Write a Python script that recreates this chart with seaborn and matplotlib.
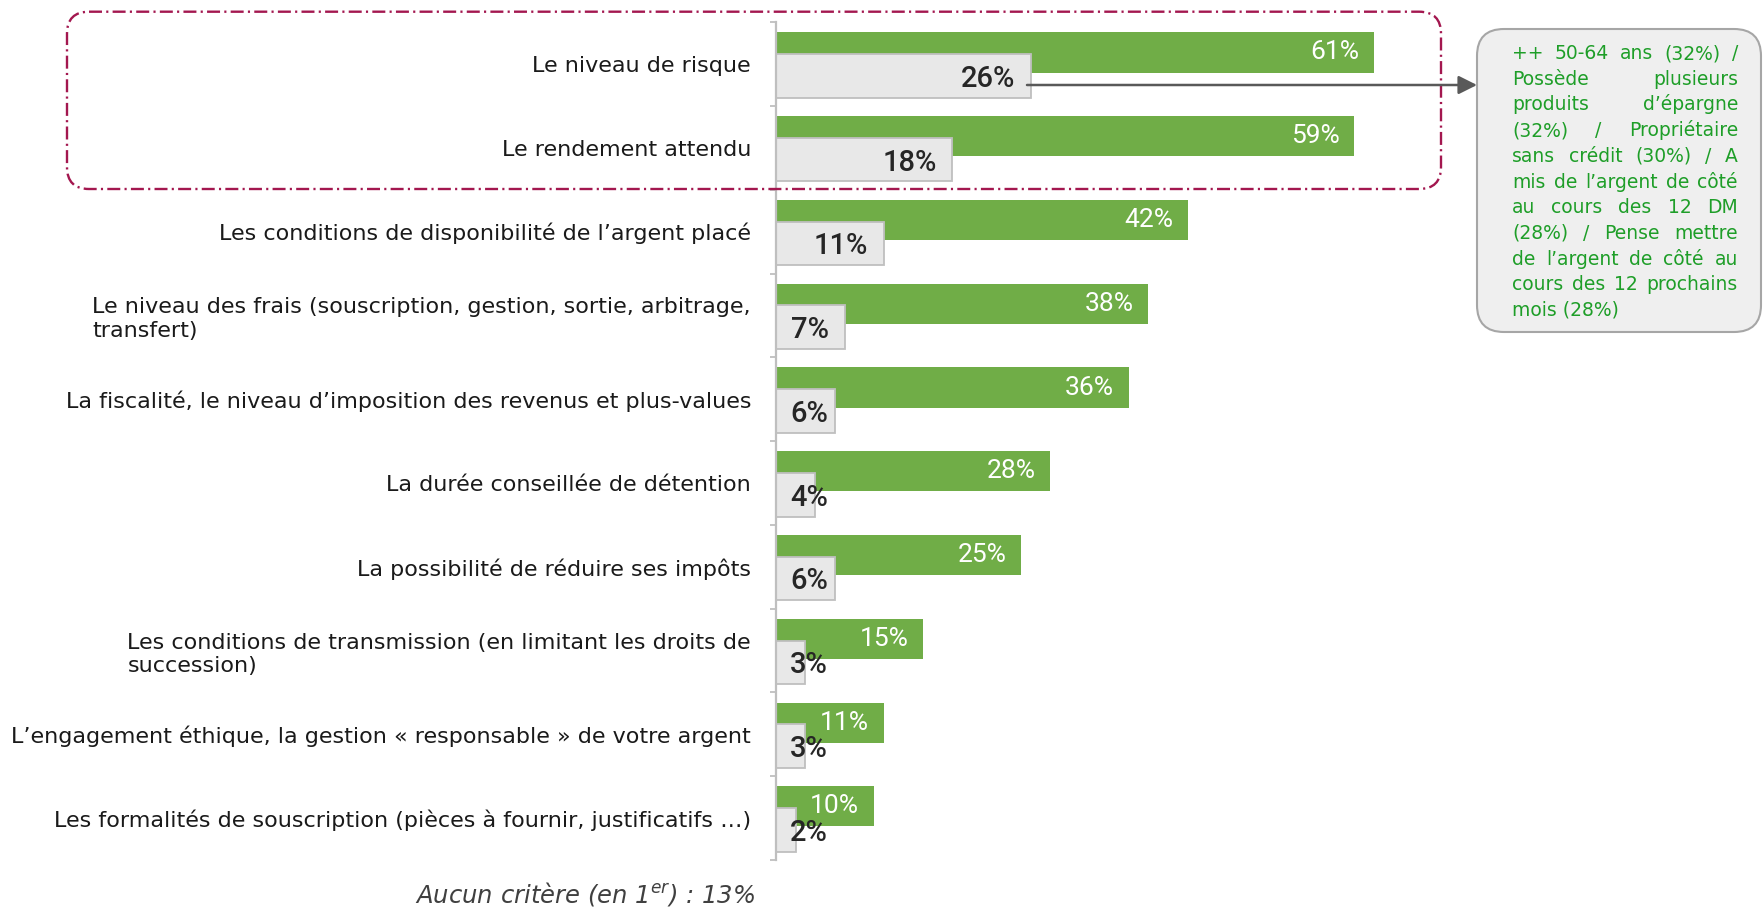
import numpy as np
import pandas as pd
import seaborn as sns
import matplotlib.pyplot as plt
from matplotlib.patches import FancyBboxPatch

# ---------------- data ----------------
categories = [
    "Le niveau de risque",
    "Le rendement attendu",
    "Les conditions de disponibilité de l’argent placé",
    "Le niveau des frais (souscription, gestion, sortie, arbitrage,\ntransfert)",
    "La fiscalité, le niveau d’imposition des revenus et plus-values",
    "La durée conseillée de détention",
    "La possibilité de réduire ses impôts",
    "Les conditions de transmission (en limitant les droits de\nsuccession)",
    "L’engagement éthique, la gestion « responsable » de votre argent",
    "Les formalités de souscription (pièces à fournir, justificatifs …)",
]
total_values = [61, 59, 42, 38, 36, 28, 25, 15, 11, 10]
first_values = [26, 18, 11, 7, 6, 4, 6, 3, 3, 2]

callout_lines = [
    "++ 50-64 ans (32%) /",
    "Possède plusieurs",
    "produits d’épargne",
    "(32%) / Propriétaire",
    "sans crédit (30%) / A",
    "mis de l’argent de côté",
    "au cours des 12 DM",
    "(28%) / Pense mettre",
    "de l’argent de côté au",
    "cours des 12 prochains",
    "mois (28%)",
]
footnote = "Aucun critère (en 1$^{er}$) : 13%"

# ---------------- style ----------------
W, H = 1763, 909
sns.set_theme(style="white")
plt.rcParams["font.family"] = ["DejaVu Sans"]
plt.rcParams["mathtext.fontset"] = "dejavusans"

GREEN = "#70ad47"
GREY_FILL = "#e8e8e8"
GREY_EDGE = "#bfbfbf"

fig = plt.figure(figsize=(W / 100, H / 100), dpi=100)
ax_top, ax_bot = 22.3, 860.0
ax = fig.add_axes([776 / W, 1 - ax_bot / H, 686 / W, (ax_bot - ax_top) / H])

n = len(categories)
pos = np.arange(n)
df = pd.DataFrame({"cat": categories, "total": total_values,
                   "first": first_values, "pos": pos})
df["pos_total"] = df["pos"] - 0.14
df["pos_first"] = df["pos"] + 0.14

sns.barplot(data=df, x="total", y="pos_total", orient="h", native_scale=True,
            width=0.48, color=GREEN, saturation=1, errorbar=None,
            linewidth=0, ax=ax)
sns.barplot(data=df, x="first", y="pos_first", orient="h", native_scale=True,
            width=0.52, color=GREY_FILL, saturation=1, errorbar=None,
            edgecolor=GREY_EDGE, linewidth=1.3, ax=ax)

ax.set_xlim(0, 70)
ax.set_ylim(n - 0.5, -0.5)
ax.set_xticks([])
ax.set_xlabel("")
ax.set_ylabel("")
ax.set_yticks(pos)
ax.set_yticklabels(categories, fontsize=16, color="#1a1a1a", linespacing=1.2)
for lbl in ax.get_yticklabels():
    lbl.set_multialignment("left")
ax.set_yticks(np.arange(n + 1) - 0.5, minor=True)
ax.tick_params(axis="y", which="major", length=0, pad=18)
ax.tick_params(axis="y", which="minor", length=4, width=1.3,
               color=GREY_EDGE, direction="out", left=True)
for s in ["top", "right", "bottom"]:
    ax.spines[s].set_visible(False)
ax.spines["left"].set_color(GREY_EDGE)
ax.spines["left"].set_linewidth(1.6)

for i, (t, f) in enumerate(zip(total_values, first_values)):
    ax.text(t - 1.5, i - 0.14, f"{t}%", ha="right", va="center",
            color="white", fontsize=19, family="Roboto", zorder=5)
    ax.text(max(f - 1.6, 5.3), i + 0.175, f"{f}%", ha="right", va="center",
            color="#262626", fontsize=21, family="Roboto", fontweight="medium",
            zorder=5)

# ---------------- overlay (pixel coords) ----------------
ov = fig.add_axes([0, 0, 1, 1], zorder=5)
ov.set_xlim(0, W)
ov.set_ylim(H, 0)
ov.axis("off")
ov.patch.set_alpha(0)

# dashed highlight around the first two rows
ov.add_patch(FancyBboxPatch((67, 11.7), 1441 - 67, 189 - 11.7,
                            boxstyle="round,pad=0,rounding_size=22",
                            fill=False, ec="#a3174f", lw=1.7,
                            ls=(0, (5.5, 1.8, 0.9, 1.8))))

# callout box
ov.add_patch(FancyBboxPatch((1477, 29), 1761 - 1477, 332 - 29,
                            boxstyle="round,pad=0,rounding_size=27",
                            fc="#efefef", ec="#a6a6a6", lw=1.5))
ov.annotate("", xy=(1477, 85), xytext=(1027, 85),
            arrowprops=dict(arrowstyle="-|>,head_length=0.7,head_width=0.35",
                            color="#595959", lw=1.8, shrinkA=0, shrinkB=0,
                            mutation_scale=16))

# justified callout text
renderer = fig.canvas.get_renderer()
left_x, right_x = 1512, 1738
base0, step = 59.0, 25.7
cfont = dict(fontsize=13.5, color="#1e9e28", family="DejaVu Sans")
for k, line in enumerate(callout_lines):
    y = base0 + k * step
    if k == len(callout_lines) - 1:
        ov.text(left_x, y, line, ha="left", va="baseline", **cfont)
        continue
    words = line.split(" ")
    objs = [ov.text(0, y, w, ha="left", va="baseline", **cfont) for w in words]
    widths = [o.get_window_extent(renderer).width for o in objs]
    gap = (right_x - left_x - sum(widths)) / max(len(words) - 1, 1)
    x = left_x
    for o, w in zip(objs, widths):
        o.set_x(x)
        x += w + gap

fig.text(585 / W, 1 - 902.7 / H, footnote, ha="center", va="baseline",
         style="italic", fontsize=17.5, color="#404040")

fig.savefig("out.png", dpi=100)
